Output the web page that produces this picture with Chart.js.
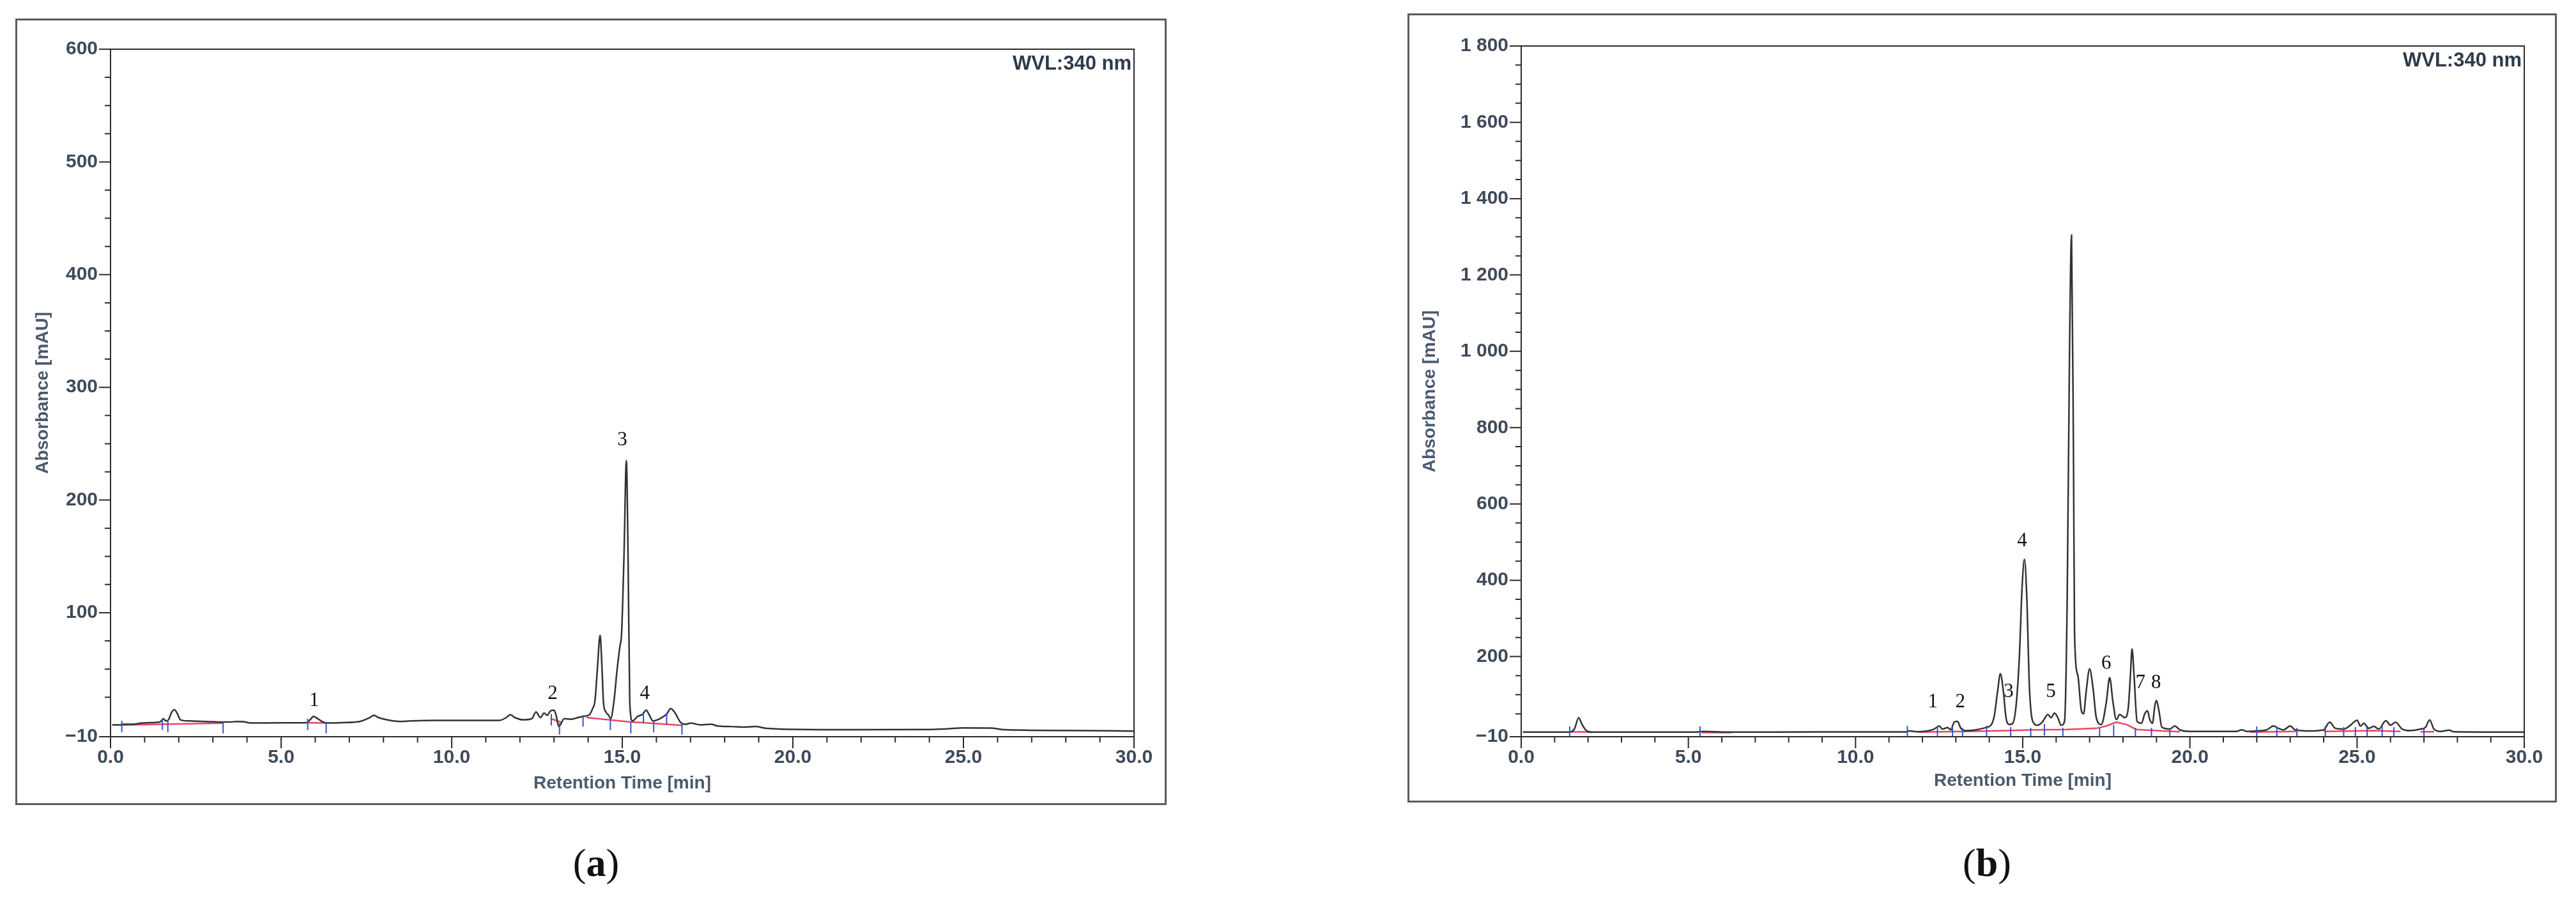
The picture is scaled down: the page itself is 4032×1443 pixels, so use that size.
<!DOCTYPE html>
<html>
<head>
<meta charset="utf-8">
<title>HPLC chromatograms at 340 nm</title>
<script src="https://cdn.jsdelivr.net/npm/chart.js@4.4.1/dist/chart.umd.min.js"></script>
<style>
  html, body { margin: 0; padding: 0; background: #fff; }
  body { position: relative; width: 4032px; height: 1443px; overflow: hidden; }
  .frame { position: absolute; border: 3px solid #5c5c5c; box-sizing: border-box; }
  canvas { position: absolute; }
  .caption {
    position: absolute;
    transform: translate(-50%, -50%);
    font-family: "Liberation Serif", "DejaVu Serif", serif;
    font-size: 62px;
    color: #111;
    white-space: nowrap;
  }
</style>
</head>
<body>
<div class="frame" style="left:24px;top:29px;width:1802px;height:1231px"></div>
<canvas id="chartA" width="1802" height="1231" style="left:24px;top:29px"></canvas>
<div class="frame" style="left:2203px;top:21px;width:1799px;height:1235px"></div>
<canvas id="chartB" width="1799" height="1235" style="left:2203px;top:21px"></canvas>
<div class="caption" style="left:933px;top:1350px">(<b>a</b>)</div>
<div class="caption" style="left:3110px;top:1350px">(<b>b</b>)</div>

<script>
// ================= DATA: PANEL (a) =================
const timeA = [
  0.05, 0.3, 0.35, 0.6, 0.9, 1.2, 1.45, 1.55, 1.62, 1.7,
  1.78, 1.87, 1.95, 2.05, 2.3, 2.8, 3.3, 3.5, 3.7, 3.9,
  4.1, 5.0, 5.75, 5.85, 5.95, 6.05, 6.2, 6.35, 6.8, 7.3,
  7.6, 7.72, 7.85, 8.1, 8.5, 8.8, 9.5, 10.5, 11.4, 11.6,
  11.72, 11.85, 12.1, 12.35, 12.47, 12.6, 12.71, 12.8, 12.9, 13.0,
  13.06, 13.14, 13.3, 13.5, 13.7, 13.85, 13.95, 14.05, 14.13, 14.2,
  14.27, 14.35, 14.4, 14.45, 14.52, 14.6, 14.66, 14.75, 14.85, 14.93,
  14.98, 15.05, 15.12, 15.17, 15.22, 15.3, 15.45, 15.6, 15.7, 15.78,
  15.9, 16.1, 16.3, 16.42, 16.55, 16.7, 16.85, 17.0, 17.3, 17.6,
  17.8, 18.2, 18.6, 18.9, 19.2, 20.0, 22.0, 24.0, 24.5, 25.0,
  25.8, 26.2, 28.0, 30.0,
];
const absA = [
  0.5, 0.5, 1, 1, 2, 2.5, 3, 6, 4, 5,
  11, 14, 11, 5, 4, 3.5, 3, 3, 3.5, 3.3,
  2.2, 2.3, 2.5, 5, 8, 6.5, 3.5, 2.2, 2.5, 3.5,
  7, 9, 7, 5, 3.5, 4, 4.5, 4.5, 4.5, 7,
  9.5, 7, 5, 6, 12, 7, 11, 9, 13, 13.5,
  9, -1, 6, 5.5, 7, 8, 8.5, 10, 15, 22,
  50, 80, 55, 20, 12, 9, 6, 20, 50, 70,
  82, 150, 235, 150, 20, 4, 8, 10, 13.5, 10,
  4, 6, 10, 15, 11, 3, 1, 2, 0.5, 1,
  -0.5, -1, -1.5, -1, -2.5, -3.5, -3.8, -3.6, -3, -2.2,
  -2.3, -3.8, -4.5, -5,
];
// integration baseline (null = break between segments)
const baseTimeA = [0.3, 3.3, 3.3, 5.8, 6.35, 6.35, 12.9, 13.2, 13.2, 13.95, 15.25, 15.6, 16.75];
const baseAbsA = [0.3, 2.0, null, 2.3, 2.2, null, 6, 3, null, 7, 3, 2.5, 0];
// peak delimiters
const cutTimeA = [0.33, 1.52, 1.68, 3.3, 5.78, 6.32, 12.92, 13.16, 13.85, 14.65, 15.25, 15.62, 15.92, 16.3, 16.75];
const cutAbsA = [-1, 1, -1, -2, 1, -2, 5, -3, 4, 1, -2, 7, -1, 6, -3];
// peak numbers
const peakNameA = ["1", "2", "3", "4"];
const peakTimeA = [5.97, 12.96, 15.0, 15.66];
const peakLevelA = [21.7, 28, 253, 28];
const yTicksA = [-10, 100, 200, 300, 400, 500, 600];

// ================= DATA: PANEL (b) =================
const timeB = [
  0.05, 1.4, 1.5, 1.6, 1.72, 1.82, 1.95, 2.1, 5.2, 5.45,
  5.8, 6.3, 9.0, 11.5, 11.6, 11.9, 12.2, 12.35, 12.5, 12.6,
  12.75, 12.85, 12.95, 13.05, 13.15, 13.3, 13.6, 13.9, 14.05, 14.15,
  14.25, 14.33, 14.42, 14.5, 14.6, 14.7, 14.8, 14.9, 14.98, 15.05,
  15.12, 15.2, 15.3, 15.45, 15.6, 15.75, 15.85, 15.95, 16.05, 16.15,
  16.25, 16.33, 16.4, 16.46, 16.52, 16.55, 16.65, 16.75, 16.82, 16.9,
  17.0, 17.1, 17.2, 17.35, 17.5, 17.6, 17.7, 17.8, 17.9, 18.05,
  18.15, 18.22, 18.27, 18.33, 18.42, 18.55, 18.65, 18.73, 18.8, 18.88,
  18.95, 19.0, 19.08, 19.16, 19.4, 19.55, 19.7, 20.0, 21.4, 21.55,
  21.7, 22.0, 22.3, 22.5, 22.65, 22.8, 23.0, 23.15, 23.6, 24.0,
  24.18, 24.35, 24.6, 24.8, 25.0, 25.1, 25.2, 25.35, 25.5, 25.65,
  25.86, 26.0, 26.15, 26.35, 26.6, 26.9, 27.05, 27.17, 27.3, 27.5,
  27.75, 27.9, 30.0,
];
const absB = [
  2, 2, 3, 12, 40, 22, 6, 2, 2, 4,
  3, 2, 2.5, 2.5, 5, 3, 6, 10, 18, 10,
  14, 8, 28, 30, 12, 6, 8, 14, 20, 45,
  110, 155, 110, 40, 22, 25, 70, 200, 380, 455,
  360, 120, 30, 20, 30, 48, 40, 52, 40, 20,
  30, 350, 1000, 1305, 700, 260, 150, 60, 50, 110,
  168, 120, 40, 22, 80, 145, 80, 35, 48, 40,
  60, 150, 220, 150, 30, 25, 50, 58, 35, 25,
  70, 85, 55, 15, 10, 18, 8, 4, 4, 8,
  4, 5, 8, 18, 12, 8, 18, 8, 5, 8,
  28, 12, 10, 20, 33, 18, 25, 12, 17, 10,
  32, 20, 28, 10, 6, 10, 15, 34, 10, 4,
  7, 3, 2,
];
const baseTimeB = [
  1.5, 2.1, 2.1, 5.4, 6.3, 6.3,
  11.9, 13.3, 14.5, 15.3, 16.3, 17.2, 17.5, 17.8, 18.1, 18.4, 19.2, 19.7, 19.7,
  21.8, 23.2, 23.2, 24.0, 25.5, 26.3, 26.3, 26.9, 27.3,
];
const baseAbsB = [
  3, 2, null, 1, 1, null,
  2, 4, 6, 8, 9, 12, 18, 28, 22, 9, 5, 3, null,
  2, 4, null, 4, 6, 4, null, 3, 3,
];
const cutTimeB = [
  1.45, 5.35, 11.55, 12.45, 12.9, 13.2, 13.92, 14.64, 15.24, 15.65, 16.2, 17.3, 17.72,
  18.37, 18.85, 19.4, 22.0, 22.6, 23.2, 24.05, 24.6, 24.95, 25.3, 25.75, 26.1, 27.0,
];
const cutAbsB = [
  2, 2, 3, 2, 2, -2, 4, 0, -2, 8, -2, -3, 6,
  -2, -2, -3, 2, 0, -2, 3, 0, 0, -2, 3, 0, -2,
];
const peakNameB = ["1", "2", "3", "4", "5", "6", "7", "8"];
const peakTimeB = [12.31, 13.13, 14.58, 14.98, 15.84, 17.5, 18.52, 18.99];
const peakLevelB = [80, 80, 107, 503, 107, 181, 131, 131];
const yTicksB = [-10, 200, 400, 600, 800, 1000, 1200, 1400, 1600, 1800];

const xTicks = [0, 5, 10, 15, 20, 25, 30];

// ================= HELPERS =================
const points = (ts, vs) => ts.map((t, i) => ({ x: t, y: vs[i] }));

const fmtAbs = (v) => {
  if (v < 0) return "\u2212" + Math.abs(v);
  if (v >= 1000) return String(v).replace(/(\d)(\d{3})$/, "$1 $2");
  return String(v);
};

const tickFont = { family: "'Liberation Sans', Arial, sans-serif", size: 30, weight: "bold" };
const titleFont = { family: "'Liberation Sans', Arial, sans-serif", size: 28, weight: "bold" };

// ================= DECOR PLUGIN =================
// plot box, major/minor tick marks, peak numbers, wavelength tag
const chromDecor = {
  id: "chromDecor",
  afterDraw(chart, args, o) {
    const { ctx, chartArea: a } = chart;
    const x = chart.scales.x;
    const y = chart.scales.y;
    ctx.save();
    ctx.strokeStyle = "#2b2b2b";
    ctx.lineWidth = 2;
    ctx.strokeRect(a.left, a.top, a.right - a.left, a.bottom - a.top);

    ctx.beginPath();
    for (let t = x.min; t <= x.max; t += o.xMinor) {
      const px = x.getPixelForValue(t);
      const len = t % o.xMajor === 0 ? 18 : 9;
      ctx.moveTo(px, a.bottom);
      ctx.lineTo(px, a.bottom + len);
    }
    const marks = [y.min];
    for (let v = o.yMinor; v <= y.max; v += o.yMinor) marks.push(v);
    marks.forEach((v) => {
      const py = y.getPixelForValue(v);
      const len = v === y.min || v % o.yMajor === 0 ? 18 : 9;
      ctx.moveTo(a.left, py);
      ctx.lineTo(a.left - len, py);
    });
    ctx.stroke();

    ctx.fillStyle = "#111";
    ctx.font = '31px "Liberation Serif", "Times New Roman", serif';
    ctx.textAlign = "center";
    ctx.textBaseline = "middle";
    o.names.forEach((n, i) => {
      ctx.fillText(n, x.getPixelForValue(o.times[i]), y.getPixelForValue(o.levels[i]));
    });

    ctx.fillStyle = "#2e3a48";
    ctx.font = 'bold 31px "Liberation Sans", Arial, sans-serif';
    ctx.textAlign = "right";
    ctx.textBaseline = "top";
    ctx.fillText("WVL:340 nm", a.right - 4, a.top + 8);
    ctx.restore();
  },
};

// ================= CHART FACTORY =================
function makeChromatogram(id, p) {
  return new Chart(document.getElementById(id), {
    type: "line",
    data: {
      datasets: [
        {
          data: points(p.cutTime, p.cutAbs),
          type: "scatter",
          showLine: false,
          pointStyle: "line",
          rotation: 90,
          pointRadius: 9,
          borderColor: "#3653c9",
          borderWidth: 2,
          order: 0,
        },
        {
          data: points(p.time, p.abs),
          borderColor: "#333333",
          borderWidth: 2.5,
          pointRadius: 0,
          cubicInterpolationMode: "monotone",
          order: 1,
        },
        {
          data: points(p.baseTime, p.baseAbs),
          borderColor: "#ee4466",
          borderWidth: 2.5,
          pointRadius: 0,
          spanGaps: false,
          order: 2,
        },
      ],
    },
    options: {
      responsive: false,
      animation: false,
      devicePixelRatio: 1,
      layout: { padding: { left: 0, top: p.padTop, right: p.padRight, bottom: 0 } },
      plugins: {
        legend: { display: false },
        tooltip: { enabled: false },
        chromDecor: {
          xMinor: 1, xMajor: 5,
          yMinor: p.yMinor, yMajor: p.yMajor,
          names: p.peakName, times: p.peakTime, levels: p.peakLevel,
        },
      },
      scales: {
        x: {
          type: "linear",
          min: 0,
          max: 30,
          afterBuildTicks: (s) => { s.ticks = xTicks.map((v) => ({ value: v })); },
          afterFit: (s) => { s.height = p.xAxisHeight; },
          grid: { display: false, drawTicks: false },
          border: { display: false },
          ticks: {
            padding: 15,
            maxRotation: 0,
            autoSkip: false,
            color: "#3e4a5a",
            font: tickFont,
            callback: (v) => Number(v).toFixed(1),
          },
          title: {
            display: true,
            text: "Retention Time [min]",
            color: "#4b5a6e",
            font: titleFont,
            padding: { top: 0, bottom: p.xTitlePad },
          },
        },
        y: {
          type: "linear",
          min: -10,
          max: p.yMax,
          afterBuildTicks: (s) => { s.ticks = p.yTicks.map((v) => ({ value: v })); },
          afterFit: (s) => { s.width = p.yAxisWidth; },
          grid: { display: false, drawTicks: false },
          border: { display: false },
          ticks: {
            padding: 20,
            autoSkip: false,
            color: "#3e4a5a",
            font: tickFont,
            callback: (v) => fmtAbs(v),
          },
          title: {
            display: true,
            text: "Absorbance [mAU]",
            color: "#4b5a6e",
            font: titleFont,
            padding: { top: p.yTitlePad, bottom: 0 },
          },
        },
      },
    },
    plugins: [chromDecor],
  });
}

// ================= RENDER =================
makeChromatogram("chartA", {
  time: timeA, abs: absA,
  baseTime: baseTimeA, baseAbs: baseAbsA,
  cutTime: cutTimeA, cutAbs: cutAbsA,
  peakName: peakNameA, peakTime: peakTimeA, peakLevel: peakLevelA,
  yTicks: yTicksA, yMax: 600, yMinor: 25, yMajor: 100,
  padTop: 48, padRight: 51, yAxisWidth: 149, xAxisHeight: 107,
  yTitlePad: 26, xTitlePad: 17,
});

makeChromatogram("chartB", {
  time: timeB, abs: absB,
  baseTime: baseTimeB, baseAbs: baseAbsB,
  cutTime: cutTimeB, cutAbs: cutAbsB,
  peakName: peakNameB, peakTime: peakTimeB, peakLevel: peakLevelB,
  yTicks: yTicksB, yMax: 1800, yMinor: 50, yMajor: 200,
  padTop: 51, padRight: 51, yAxisWidth: 178, xAxisHeight: 103,
  yTitlePad: 18, xTitlePad: 17,
});
</script>
</body>
</html>
